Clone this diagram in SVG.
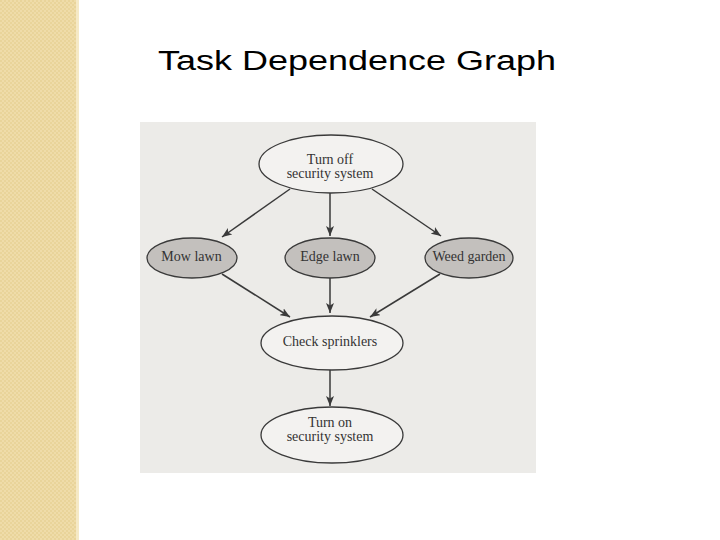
<svg xmlns="http://www.w3.org/2000/svg" width="720" height="540" viewBox="0 0 720 540">
  <defs>
    <pattern id="chk" width="4" height="4" patternUnits="userSpaceOnUse">
      <rect width="4" height="4" fill="#efdca9"/>
      <rect width="2" height="2" fill="#e9d49a"/>
      <rect x="2" y="2" width="2" height="2" fill="#e9d49a"/>
    </pattern>
    <marker id="arr" viewBox="0 0 10 8" refX="10" refY="4" markerWidth="10" markerHeight="8" markerUnits="userSpaceOnUse" orient="auto">
      <path d="M0,0 L10,4 L0,8 L2.5,4 z" fill="#3a3a3a"/>
    </marker>
    <style>
      .node ellipse { stroke: #3a3a3a; stroke-width: 1.3; }
      .light { fill: #f3f2f0; }
      .dark { fill: #c3c0bd; }
      .lbl { font-family: "Liberation Serif", "Times New Roman", serif; font-size: 14px; fill: #333; text-anchor: middle; }
      .edge { stroke: #3a3a3a; stroke-width: 1.5; fill: none; marker-end: url(#arr); }
    </style>
  </defs>
  <rect width="720" height="540" fill="#ffffff"/>
  <rect x="0" y="0" width="76" height="540" fill="url(#chk)"/>
  <rect x="76" y="0" width="3" height="540" fill="#f5e9c6"/>
  <text x="158" y="70" font-family="Liberation Sans, Arial, sans-serif" font-size="27" fill="#000" textLength="398" lengthAdjust="spacingAndGlyphs">Task Dependence Graph</text>
  <rect x="140" y="122" width="396" height="351" fill="#ecebe8"/>

  <g id="connectors">
    <line class="edge" x1="290" y1="189" x2="222" y2="237"/>
    <line class="edge" x1="330" y1="193" x2="330" y2="236"/>
    <line class="edge" x1="372" y1="189" x2="441" y2="236"/>
    <line class="edge" x1="222" y1="274" x2="290" y2="317"/>
    <line class="edge" x1="330" y1="277" x2="330" y2="313"/>
    <line class="edge" x1="440" y1="274" x2="370" y2="317"/>
    <line class="edge" x1="330" y1="370" x2="330" y2="406"/>
  </g>

  <g id="turn-off" class="node">
    <ellipse class="light" cx="331" cy="164" rx="72" ry="29"/>
    <text class="lbl" x="330" y="164">Turn off</text>
    <text class="lbl" x="330" y="178">security system</text>
  </g>
  <g id="mow-lawn" class="node">
    <ellipse class="dark" cx="192" cy="258" rx="45" ry="20"/>
    <text class="lbl" x="191.5" y="261">Mow lawn</text>
  </g>
  <g id="edge-lawn" class="node">
    <ellipse class="dark" cx="330" cy="258" rx="45" ry="20"/>
    <text class="lbl" x="330" y="261">Edge lawn</text>
  </g>
  <g id="weed-garden" class="node">
    <ellipse class="dark" cx="469" cy="258" rx="44" ry="20"/>
    <text class="lbl" x="469" y="261">Weed garden</text>
  </g>
  <g id="check-sprinklers" class="node">
    <ellipse class="light" cx="332" cy="343" rx="71" ry="27"/>
    <text class="lbl" x="330" y="346">Check sprinklers</text>
  </g>
  <g id="turn-on" class="node">
    <ellipse class="light" cx="332" cy="435" rx="71" ry="28"/>
    <text class="lbl" x="330" y="427">Turn on</text>
    <text class="lbl" x="330" y="441">security system</text>
  </g>
</svg>
